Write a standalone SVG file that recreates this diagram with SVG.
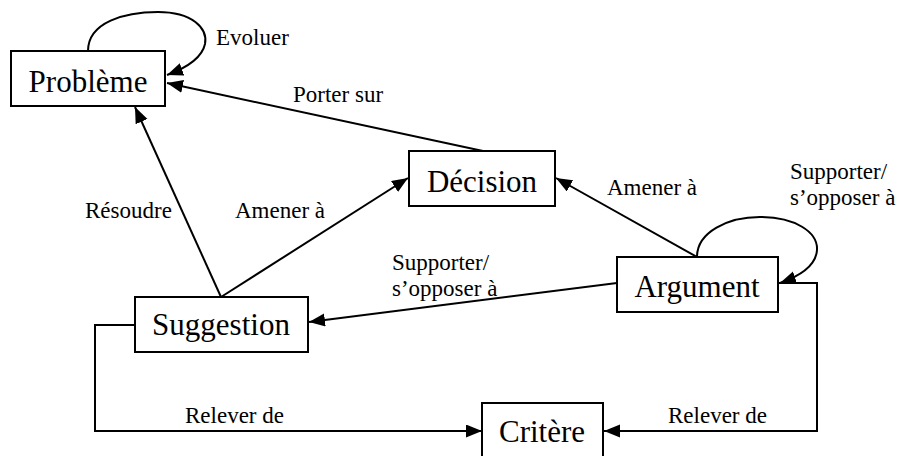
<svg xmlns="http://www.w3.org/2000/svg" width="902" height="456" viewBox="0 0 902 456">
  <style>
    .box { fill: #fff; stroke: #000; stroke-width: 2; }
    .node-label { font-family: "Liberation Serif", "Times New Roman", serif; font-size: 31px; fill: #000; text-anchor: middle; }
    .edge { fill: none; stroke: #000; stroke-width: 2; }
    .edge-label { font-family: "Liberation Serif", "Times New Roman", serif; font-size: 23px; fill: #000; }
  </style>
  <defs>
    <marker id="arrow" markerUnits="userSpaceOnUse" markerWidth="18" markerHeight="14" refX="16" refY="6.5" orient="auto">
      <path d="M0,0 L16,6.5 L0,13 z" fill="#000"/>
    </marker>
  </defs>

  <rect width="902" height="456" fill="#fff"/>

  <g id="connectors">
    <!-- Evoluer (self loop on Problème) -->
    <path class="edge" marker-end="url(#arrow)" d="M88,51 C88,22 125,12 158,12 C192,12 208,28 205,44 C202,58 186,68 167,75"/>
    <!-- Porter sur -->
    <path class="edge" marker-end="url(#arrow)" d="M483,151 L167,83"/>
    <!-- Résoudre -->
    <path class="edge" marker-end="url(#arrow)" d="M221,297 L135,107"/>
    <!-- Amener à (Suggestion -> Décision) -->
    <path class="edge" marker-end="url(#arrow)" d="M221,297 L408,178"/>
    <!-- Amener à (Argument -> Décision) -->
    <path class="edge" marker-end="url(#arrow)" d="M697,257 L556,178"/>
    <!-- Supporter / s'opposer à (self loop on Argument) -->
    <path class="edge" marker-end="url(#arrow)" d="M697,257 C697,232 728,217 760,217 C795,217 818,232 817,250 C816,265 800,276 780,283"/>
    <!-- Supporter / s'opposer à (Argument -> Suggestion) -->
    <path class="edge" marker-end="url(#arrow)" d="M617,283 L309,322"/>
    <!-- Relever de (Suggestion -> Critère) -->
    <path class="edge" marker-end="url(#arrow)" d="M135,325 L95,325 L95,431 L482,431"/>
    <!-- Relever de (Argument -> Critère) -->
    <path class="edge" marker-end="url(#arrow)" d="M779,283 L817,283 L817,431 L604,431"/>

    <text class="edge-label" x="216" y="45">Evoluer</text>
    <text class="edge-label" x="293" y="102">Porter sur</text>
    <text class="edge-label" x="85" y="218">Résoudre</text>
    <text class="edge-label" x="235" y="218">Amener à</text>
    <text class="edge-label" x="607" y="195">Amener à</text>
    <text class="edge-label" x="790" y="179">Supporter/</text>
    <text class="edge-label" x="790" y="205">s’opposer à</text>
    <text class="edge-label" x="392" y="270">Supporter/</text>
    <text class="edge-label" x="392" y="296">s’opposer à</text>
    <text class="edge-label" x="185" y="423">Relever de</text>
    <text class="edge-label" x="668" y="423">Relever de</text>
  </g>

  <g id="probleme">
    <rect class="box" x="11" y="51" width="154" height="55"/>
    <text class="node-label" x="88" y="92">Problème</text>
  </g>
  <g id="decision">
    <rect class="box" x="409" y="151" width="146" height="55"/>
    <text class="node-label" x="482" y="192">Décision</text>
  </g>
  <g id="argument">
    <rect class="box" x="617" y="257" width="161" height="55"/>
    <text class="node-label" x="697" y="297">Argument</text>
  </g>
  <g id="suggestion">
    <rect class="box" x="135" y="297" width="173" height="55"/>
    <text class="node-label" x="221" y="335">Suggestion</text>
  </g>
  <g id="critere">
    <rect class="box" x="482" y="403" width="121" height="62"/>
    <text class="node-label" x="542" y="442">Critère</text>
  </g>
</svg>
